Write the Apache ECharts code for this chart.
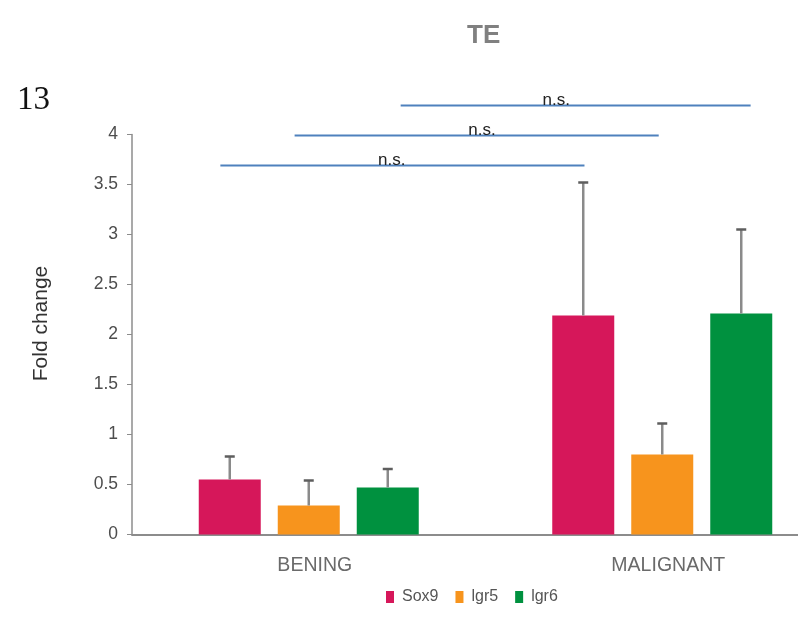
<!DOCTYPE html>
<html>
<head>
<meta charset="utf-8">
<script src="https://cdn.jsdelivr.net/npm/echarts@6/dist/echarts.min.js"></script>
<style>html,body{margin:0;padding:0;background:#fff;overflow:hidden}#c{width:798px;height:631px}</style>
</head>
<body>
<div id="c"></div>
<script>
// ---- data ----
const categories = ['BENING', 'MALIGNANT'];
const seriesNames = ['Sox9', 'lgr5', 'lgr6'];
const sox9 = [0.55, 2.19];
const sox9Err = [0.23, 1.33];
const lgr5 = [0.29, 0.80];
const lgr5Err = [0.25, 0.31];
const lgr6 = [0.47, 2.21];
const lgr6Err = [0.185, 0.84];
const yTicks = [0, 0.5, 1, 1.5, 2, 2.5, 3, 3.5, 4];
// significance brackets (x in category-index units, y in fold change)
const sigStart = [-0.25, -0.04, 0.26];
const sigEnd = [0.78, 0.99, 1.25];
const sigY = [3.69, 3.99, 4.29];
const sigLabelX = [0.235, 0.49, 0.70];
const sigLabel = ['n.s.', 'n.s.', 'n.s.'];

// ---- style ----
const colors = ['#D6175A', '#F7941D', '#00913F'];
const BAR_W = 62, GAP = 17;
const SANS = '"Liberation Sans", Arial, sans-serif';
const SERIF = '"Liberation Serif", "Times New Roman", serif';

const values = [sox9, lgr5, lgr6];
const errs = [sox9Err, lgr5Err, lgr6Err];

const errData = [];
values.forEach((v, s) => v.forEach((val, i) => errData.push([i, val, errs[s][i], s])));
const sigData = sigStart.map((x0, k) => [x0, sigEnd[k], sigY[k], sigLabelX[k], k]);

const chart = echarts.init(document.getElementById('c'));
chart.setOption({
  animation: false,
  backgroundColor: '#fff',
  title: {
    text: 'TE', left: 462, top: 18,
    textStyle: { fontFamily: SANS, fontSize: 26, fontWeight: 'bold', color: '#808080' }
  },
  graphic: [{
    type: 'text', left: 17, top: 84,
    style: { text: '13', fontFamily: SERIF, fontSize: 33, fill: '#111' }
  }],
  legend: {
    data: seriesNames, left: 381, top: 584,
    itemWidth: 8, itemHeight: 12, itemGap: 17, icon: 'rect',
    textStyle: { fontFamily: SANS, fontSize: 16, color: '#555', padding: [0, 0, 0, 3] }
  },
  grid: { left: 132, top: 134.5, right: -41, bottom: 96.5, outerBoundsMode: 'none', containLabel: false },
  xAxis: [{
    type: 'category', data: categories,
    axisLine: { lineStyle: { color: '#8c8c8c', width: 2 } },
    axisTick: { show: false },
    axisLabel: { margin: 21, fontFamily: SANS, fontSize: 19.5, color: '#6a6a6a', padding: [0, 0, 0, 12] }
  }, {
    type: 'value', min: -0.5, max: 1.5, show: false
  }],
  yAxis: {
    type: 'value', min: yTicks[0], max: yTicks[yTicks.length - 1], interval: yTicks[1] - yTicks[0],
    name: 'Fold change', nameLocation: 'middle', nameRotate: 90, nameGap: 80,
    nameTextStyle: { fontFamily: SANS, fontSize: 21, color: '#333', padding: [0, 0, 0, 22] },
    axisLine: { show: true, onZero: false, lineStyle: { color: '#8c8c8c', width: 1.5 } },
    axisTick: { show: true, length: 5, lineStyle: { color: '#8c8c8c' } },
    axisLabel: { margin: 14, fontFamily: SANS, fontSize: 17.5, color: '#4d4d4d' },
    splitLine: { show: false }
  },
  series: [
    ...seriesNames.map((n, s) => ({
      name: n, type: 'bar', data: values[s], barWidth: BAR_W, barGap: (GAP / BAR_W * 100) + '%',
      itemStyle: { color: colors[s] }
    })),
    {
      type: 'custom', xAxisIndex: 0, yAxisIndex: 0, data: errData, clip: false, z: 5,
      encode: { x: 0, y: 1 },
      renderItem: function (params, api) {
        const s = api.value(3);
        const base = api.coord([api.value(0), api.value(1)]);
        const top = api.coord([api.value(0), api.value(1) + api.value(2)]);
        const x = base[0] + (s - 1) * (BAR_W + GAP);
        return {
          type: 'group', children: [
            { type: 'line', shape: { x1: x, y1: base[1], x2: x, y2: top[1] }, style: { stroke: '#8a8a8a', lineWidth: 2.5 } },
            { type: 'line', shape: { x1: x - 5, y1: top[1], x2: x + 5, y2: top[1] }, style: { stroke: '#5e5e5e', lineWidth: 2.5 } }
          ]
        };
      }
    },
    {
      type: 'custom', xAxisIndex: 1, yAxisIndex: 0, data: sigData, clip: false, z: 6,
      encode: { x: [0, 1, 3], y: 2 },
      renderItem: function (params, api) {
        const p0 = api.coord([api.value(0), api.value(2)]);
        const p1 = api.coord([api.value(1), api.value(2)]);
        const pl = api.coord([api.value(3), api.value(2)]);
        return {
          type: 'group', children: [
            { type: 'line', shape: { x1: p0[0], y1: p0[1], x2: p1[0], y2: p1[1] }, style: { stroke: '#4F81BD', lineWidth: 2 } },
            { type: 'text', x: pl[0], y: pl[1] + 3, style: { text: sigLabel[api.value(4)], fontFamily: SANS, fontSize: 17, fill: '#222', align: 'center', verticalAlign: 'bottom' } }
          ]
        };
      }
    }
  ]
});
</script>
</body>
</html>
